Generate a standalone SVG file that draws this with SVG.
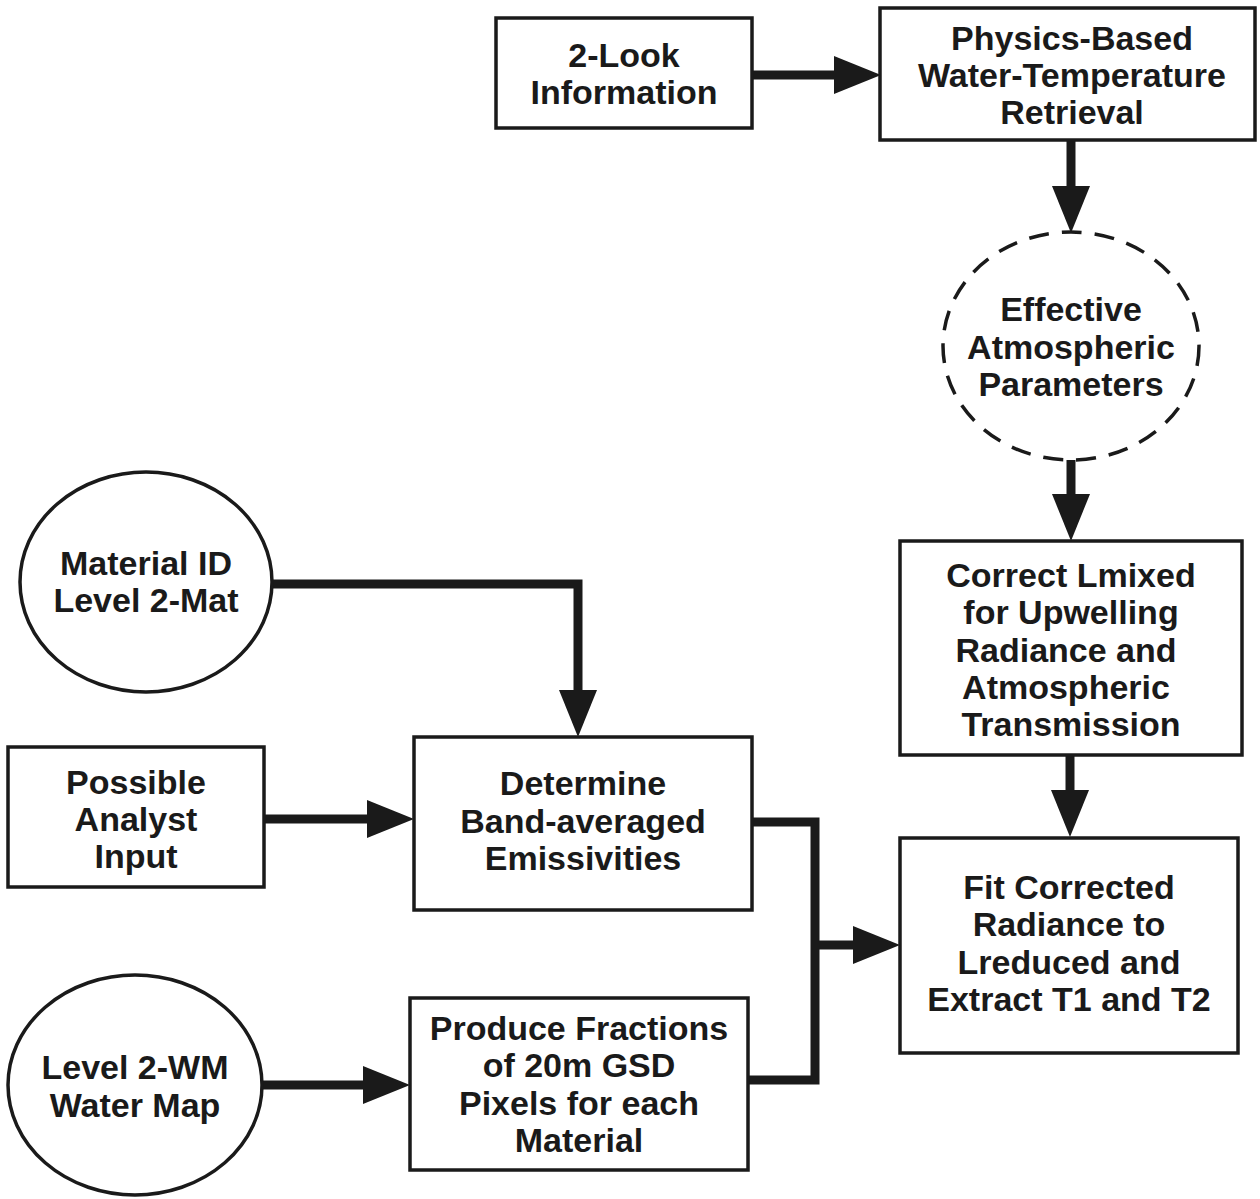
<svg xmlns="http://www.w3.org/2000/svg" width="1260" height="1199" viewBox="0 0 1260 1199">
<defs>
<marker id="ah" markerUnits="userSpaceOnUse" markerWidth="48" markerHeight="38" refX="0" refY="19" orient="auto" overflow="visible">
<path d="M0,0 L47,19 L0,38 z" fill="#1a1a1a"/>
</marker>
<style>
.box{fill:#fff;stroke:#1a1a1a;stroke-width:3.5}
.dash{fill:#fff;stroke:#1a1a1a;stroke-width:3.5;stroke-dasharray:20 13}
.c{fill:none;stroke:#1a1a1a;stroke-width:9}
.t{font-family:"Liberation Sans",Arial,sans-serif;font-weight:bold;font-size:34px;fill:#1a1a1a;text-anchor:middle}
</style>
</defs>
<rect width="1260" height="1199" fill="#fff"/>
<g id="connectors">
<line class="c" x1="752" y1="75" x2="834" y2="75" marker-end="url(#ah)"/>
<line class="c" x1="1071" y1="140" x2="1071" y2="186" marker-end="url(#ah)"/>
<line class="c" x1="1071" y1="460" x2="1071" y2="494" marker-end="url(#ah)"/>
<path class="c" d="M272,584 H578 V690" marker-end="url(#ah)"/>
<line class="c" x1="1070" y1="755" x2="1070" y2="790" marker-end="url(#ah)"/>
<line class="c" x1="264" y1="819" x2="367" y2="819" marker-end="url(#ah)"/>
<line class="c" x1="262" y1="1085" x2="363" y2="1085" marker-end="url(#ah)"/>
<path class="c" d="M752,822 H815 V1080 H748"/>
<line class="c" x1="815" y1="945" x2="853" y2="945" marker-end="url(#ah)"/>
</g>
<g id="n-2look">
<rect class="box" x="496" y="18" width="256" height="110"/>
<text class="t" x="624" y="67">2-Look</text>
<text class="t" x="624" y="104">Information</text>
</g>
<g id="n-physics">
<rect class="box" x="880" y="8" width="375" height="132"/>
<text class="t" x="1072" y="50">Physics-Based</text>
<text class="t" x="1072" y="87">Water-Temperature</text>
<text class="t" x="1072" y="124">Retrieval</text>
</g>
<g id="n-effective">
<ellipse class="dash" cx="1071" cy="346" rx="128" ry="114"/>
<text class="t" x="1071" y="321">Effective</text>
<text class="t" x="1071" y="359">Atmospheric</text>
<text class="t" x="1071" y="396">Parameters</text>
</g>
<g id="n-correct">
<rect class="box" x="900" y="541" width="342" height="214"/>
<text class="t" x="1071" y="587">Correct Lmixed</text>
<text class="t" x="1071" y="624">for Upwelling</text>
<text class="t" x="1066" y="662">Radiance and</text>
<text class="t" x="1066" y="699">Atmospheric</text>
<text class="t" x="1071" y="736">Transmission</text>
</g>
<g id="n-fit">
<rect class="box" x="900" y="838" width="338" height="215"/>
<text class="t" x="1069" y="899">Fit Corrected</text>
<text class="t" x="1069" y="936">Radiance to</text>
<text class="t" x="1069" y="974">Lreduced and</text>
<text class="t" x="1069" y="1011">Extract T1 and T2</text>
</g>
<g id="n-material">
<ellipse class="box" cx="146" cy="582" rx="126" ry="110"/>
<text class="t" x="146" y="575">Material ID</text>
<text class="t" x="146" y="612">Level 2-Mat</text>
</g>
<g id="n-analyst">
<rect class="box" x="8" y="747" width="256" height="140"/>
<text class="t" x="136" y="794">Possible</text>
<text class="t" x="136" y="831">Analyst</text>
<text class="t" x="136" y="868">Input</text>
</g>
<g id="n-determine">
<rect class="box" x="414" y="737" width="338" height="173"/>
<text class="t" x="583" y="795">Determine</text>
<text class="t" x="583" y="833">Band-averaged</text>
<text class="t" x="583" y="870">Emissivities</text>
</g>
<g id="n-watermap">
<ellipse class="box" cx="135" cy="1085" rx="127" ry="110"/>
<text class="t" x="135" y="1079">Level 2-WM</text>
<text class="t" x="135" y="1117">Water Map</text>
</g>
<g id="n-produce">
<rect class="box" x="410" y="998" width="338" height="172"/>
<text class="t" x="579" y="1040">Produce Fractions</text>
<text class="t" x="579" y="1077">of 20m GSD</text>
<text class="t" x="579" y="1115">Pixels for each</text>
<text class="t" x="579" y="1152">Material</text>
</g>
</svg>
